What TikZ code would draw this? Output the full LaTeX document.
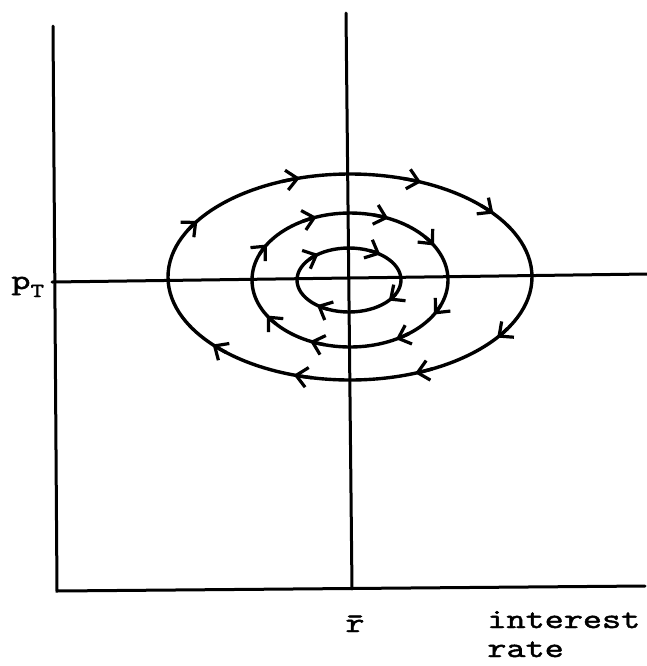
\documentclass[tikz,border=0pt]{standalone}
\usepackage{fontspec}
\newfontfamily\typew{lmmono10-regular.otf}[FakeBold=1.6,FakeStretch=1.3]
\usetikzlibrary{arrows.meta}
\begin{document}
\begin{tikzpicture}[x=0.5pt,y=-0.5pt,
  axis/.style={line width=1.5pt,line cap=round},
  orbit/.style={line width=1.7pt},
  flow/.style={line width=1.7pt,-{Straight Barb[length=5.5pt,width=10pt,line width=1.6pt]}},
  lbl/.style={inner sep=0pt,font=\fontsize{14}{14}\selectfont\typew}]
\useasboundingbox (0,0) rectangle (647,666);
% axes
\coordinate (ytop) at (53,26);
\coordinate (origin) at (57,591);
\coordinate (xend) at (645,586);
\coordinate (htl) at (52,282);
\coordinate (htr) at (647,274);
\coordinate (vtop) at (346,13);
\coordinate (vbot) at (352,589);
\draw[axis] (ytop) -- (origin) -- (xend);
\draw[axis] (htl) -- (htr);
\draw[axis] (vtop) -- (vbot);
% centres
\coordinate (co) at (350,277);
\coordinate (cm) at (350,280);
\coordinate (ci) at (349,280);
% orbits
\draw[orbit] (co) ellipse [x radius=182, y radius=103];
\draw[orbit] (cm) ellipse [x radius=98, y radius=67];
\draw[orbit] (ci) ellipse [x radius=52, y radius=32];
% direction arrows (clockwise on screen)
\foreach \a in {-147,-106,-67,-38,36,69,108,139}
  \draw[flow] ([shift={(\a-6:182 and 103)}]co) arc[start angle=\a-6, end angle=\a, x radius=182, y radius=103];
\foreach \a in {-148,-110,-67,-31,31,62,114,148}
  \draw[flow] ([shift={(\a-9:98 and 67)}]cm) arc[start angle=\a-9, end angle=\a, x radius=98, y radius=67];
\foreach \a in {-126,-53,40,128}
  \draw[flow] ([shift={(\a-14:52 and 32)}]ci) arc[start angle=\a-14, end angle=\a, x radius=52, y radius=32];
% labels
\node[lbl,anchor=base west] (pt) at (11,289) {p\raisebox{-4pt}{\fontsize{10}{10}\selectfont T}};
\node[lbl,anchor=base] (rbar) at (355,632) {\=r};
\node[lbl,anchor=base west] (int) at (487,628) {interest};
\node[lbl,anchor=base west] (rate) at (487,657) {rate};
\end{tikzpicture}
\end{document}
